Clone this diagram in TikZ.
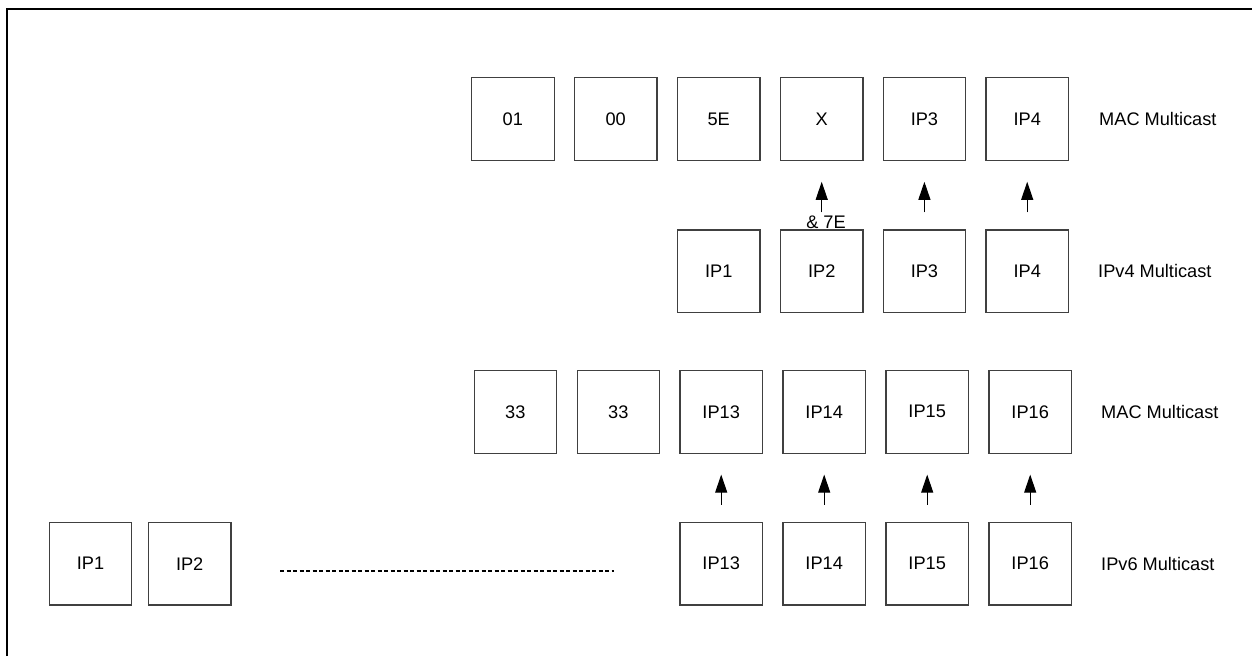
\documentclass[tikz,border=0pt]{standalone}
\usepackage{fontspec}
\setmainfont{Liberation Sans}
\usetikzlibrary{arrows.meta}
\begin{document}
\begin{tikzpicture}[x=1pt,y=-1pt,
  box/.style={draw=black!75,line width=1.1pt,minimum width=82.5pt,minimum height=82.5pt,inner sep=0pt,font=\fontsize{18.2}{21}\selectfont},
  lbl/.style={anchor=west,inner sep=0pt,font=\fontsize{18.2}{21}\selectfont},
  up/.style={line width=1.1pt,-{Triangle[length=18pt,width=12pt]},shorten <=17pt,shorten >=21pt},
  frame/.style={line width=1.6pt,black}]
\useasboundingbox (0,0) rectangle (1252,656);
\coordinate (fa) at (7,656);
\coordinate (fb) at (7,9);
\coordinate (fc) at (1252,9);
\draw[frame] (fa) -- (fb) -- (fc);
% IPv4 MAC row
\node[box] (m1) at (512.8,119) {01};
\node[box] (m2) at (615.7,119) {00};
\node[box] (m3) at (718.7,119) {5E};
\node[box] (m4) at (821.7,119) {X};
\node[box] (m5) at (924.4,119) {IP3};
\node[box] (m6) at (1027.2,119) {IP4};
\node[lbl] (l1) at (1099,119) {MAC Multicast};
% IPv4 row
\node[box] (v1) at (718.7,271.2) {IP1};
\node[box] (v2) at (821.7,271.2) {IP2};
\node[box] (v3) at (924.4,271.2) {IP3};
\node[box] (v4) at (1027.2,271.2) {IP4};
\node[lbl] (l2) at (1098,271.2) {IPv4 Multicast};
\draw[up] (v2.north) -- (m4.south);
\draw[up] (v3.north) -- (m5.south);
\draw[up] (v4.north) -- (m6.south);
\node[inner sep=0pt,font=\fontsize{18.2}{21}\selectfont] (and) at (826,222.5) {\& 7E};
% IPv6 MAC row
\node[box] (n1) at (515.3,411.8) {33};
\node[box] (n2) at (618.3,411.8) {33};
\node[box] (n3) at (721.2,411.8) {IP13};
\node[box] (n4) at (824.2,411.8) {IP14};
\node[box] (n5) at (927.2,411.8) {IP15};
\node[box] (n6) at (1030.2,411.8) {IP16};
\node[lbl] (l3) at (1101,411.8) {MAC Multicast};
% IPv6 row
\node[box] (w1) at (90.5,563.7) {IP1};
\node[box] (w2) at (189.7,563.7) {IP2};
\node[box] (w13) at (721.2,563.7) {IP13};
\node[box] (w14) at (824.2,563.7) {IP14};
\node[box] (w15) at (927.2,563.7) {IP15};
\node[box] (w16) at (1030.2,563.7) {IP16};
\node[lbl] (l4) at (1101,563.7) {IPv6 Multicast};
\draw[up] (w13.north) -- (n3.south);
\draw[up] (w14.north) -- (n4.south);
\draw[up] (w15.north) -- (n5.south);
\draw[up] (w16.north) -- (n6.south);
\coordinate (d1) at (280,571);
\coordinate (d2) at (614,571);
\draw[line width=2.2pt,dash pattern=on 4pt off 2.5pt] (d1) -- (d2);
\end{tikzpicture}
\end{document}
